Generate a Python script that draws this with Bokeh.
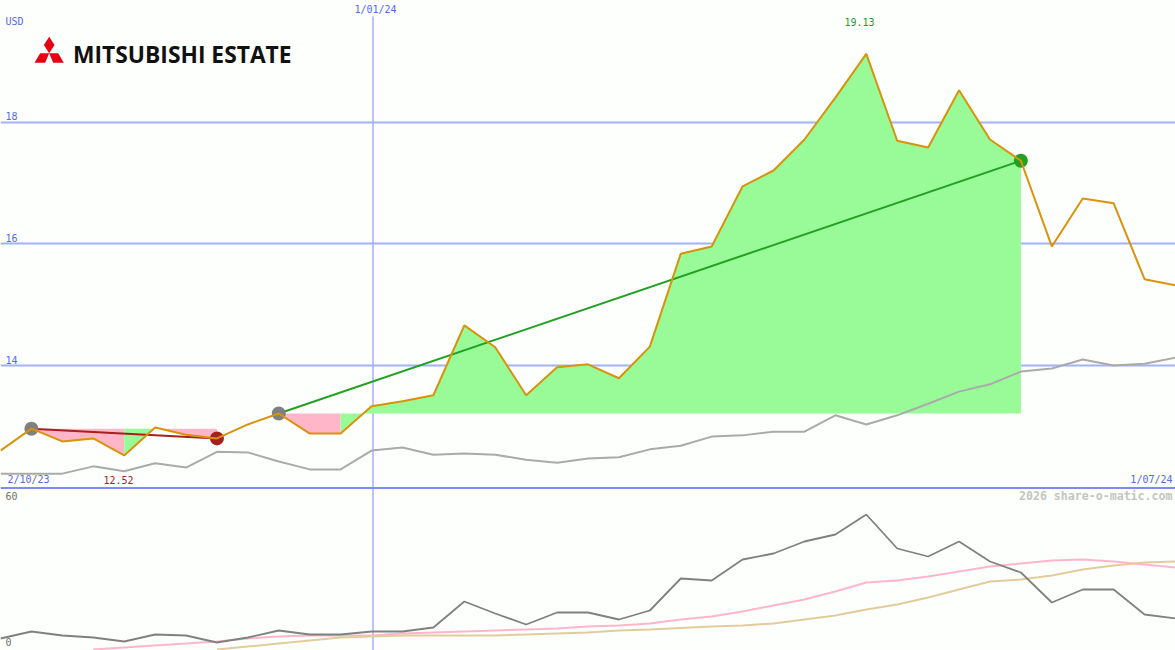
from bokeh.core.properties import value
from bokeh.embed import file_html
from bokeh.models import Range1d
from bokeh.plotting import figure
from bokeh.resources import INLINE

# monthly closes, left to right
price = [12.60, 12.96, 12.75, 12.80, 12.52, 12.98, 12.86, 12.80, 13.03, 13.21,
         12.88, 12.88, 13.33, 13.41, 13.51, 14.66, 14.30, 13.51, 13.97, 14.02,
         13.79, 14.31, 15.84, 15.96, 16.95, 17.21, 17.72, 18.41, 19.13, 17.70,
         17.59, 18.53, 17.72, 17.37, 15.96, 16.75, 16.67, 15.42, 15.32]
price_avg = [12.22, 12.22, 12.22, 12.34, 12.26, 12.39, 12.32, 12.58, 12.57, 12.42,
             12.29, 12.29, 12.60, 12.65, 12.53, 12.55, 12.53, 12.45, 12.40, 12.47,
             12.49, 12.62, 12.68, 12.83, 12.85, 12.91, 12.91, 13.18, 13.03, 13.18,
             13.37, 13.57, 13.69, 13.90, 13.95, 14.10, 14.00, 14.03, 14.13]
osc = [4.0, 6.8, 5.2, 4.4, 2.8, 5.6, 5.2, 2.4, 4.4, 7.2,
       5.6, 5.6, 6.8, 6.8, 8.4, 18.8, 14.0, 9.6, 14.4, 14.4,
       11.6, 15.2, 28.0, 27.2, 35.6, 38.0, 42.8, 45.6, 53.6, 40.0,
       36.8, 42.8, 34.8, 30.4, 18.4, 23.6, 23.6, 13.6, 12.0]
osc_fast = [-0.4, 0.4, 1.2, 2.0, 2.8, 4.0, 4.8, 5.2, 5.2, 5.2, 6.0, 6.4,
            6.8, 7.2, 7.6, 8.0, 8.8, 9.2, 10.0, 11.6, 12.8, 14.8, 17.2, 19.6,
            22.8, 26.4, 27.2, 28.8, 30.8, 32.8, 34.0, 35.2, 35.6, 34.8, 33.6, 32.4]
osc_slow = [-0.4, 0.8, 2.0, 3.2, 4.4, 4.8, 5.2, 5.2, 5.2, 5.2, 5.6, 6.0, 6.4, 7.2, 7.6, 8.2,
            8.8, 9.2, 10.0, 11.6, 13.2, 15.6, 17.6, 20.4, 23.6, 26.8, 27.6, 29.2, 31.6,
            33.2, 34.4, 34.8]
levels = [18, 16, 14]
# entry month, exit month, colour
trades = [(1, 7, "#a52020"), (9, 33, "#22a022")]
# runs of months for the fill between price and entry level: first, last, entry price month, colour
fill_runs = [(1, 4, 1, "#ffb6c8"), (4, 5, 1, "#98fb98"), (5, 7, 1, "#ffb6c8"),
             (9, 11, 9, "#ffb6c8"), (11, 33, 9, "#98fb98")]

BG = "#fdfffd"
GRID = "#a3b1f5"
BLUE = "#5468f0"

xs = list(range(len(price)))

p = figure(width=1175, height=650, toolbar_location=None, output_backend="svg",
           x_range=Range1d(0, 38), y_range=Range1d(9.309, 20.008),
           min_border=0, background_fill_color=BG,
           border_fill_color=BG, outline_line_color=None)
p.axis.visible = False
p.grid.visible = False
p.extra_x_ranges["px"] = Range1d(0, 1175)
p.extra_y_ranges["px"] = Range1d(650, 0)
p.extra_y_ranges["osc"] = Range1d(-0.8, 259.2)

p.hspan(y=levels, line_color=GRID, line_width=2)
p.segment(x0=[372.5], x1=[372.5], y0=[16], y1=[650], x_range_name="px", y_range_name="px",
          line_color=GRID, line_width=1.5)
p.segment(x0=[0], x1=[1175], y0=[487.5], y1=[487.5], x_range_name="px", y_range_name="px",
          line_color="#7c8cf0", line_width=2)

for first, last, entry, col in fill_runs:
    run_x = xs[first:last + 1]
    p.varea(x=run_x, y1=[price[entry]] * len(run_x), y2=price[first:last + 1], fill_color=col)

p.line(xs, price_avg, line_color="#aaaaaa", line_width=2)

for start, end, col in trades:
    p.line([start, end], [price[start], price[end]], line_color=col, line_width=2)
    p.scatter([start], [price[start]], size=14, fill_color="#808080", line_color=None)
    p.scatter([end], [price[end]], size=14, fill_color=col, line_color=None)

p.line(xs, price, line_color="#d9920a", line_width=2)

p.line(xs[3:], osc_fast, y_range_name="osc", line_color="#ffb6cc", line_width=2)
p.line(xs[7:], osc_slow, y_range_name="osc", line_color="#e2cc9c", line_width=2)
p.line(xs, osc, y_range_name="osc", line_color="#808080", line_width=1.8)

# logo
p.patches(xs=[[48.7, 54.0, 48.7, 43.4], [39.7, 48.7, 44.7, 34.0], [48.7, 57.7, 63.3, 52.7]],
          ys=[[36.2, 44.5, 52.8, 44.5], [52.8, 52.8, 62.2, 62.2], [52.8, 52.8, 62.2, 62.2]],
          x_range_name="px", y_range_name="px", fill_color="#e60012", line_color=None)
p.text(x=[72.5], y=[53.5], text=["MITSUBISHI ESTATE"], x_range_name="px", y_range_name="px",
       text_font=value("Open Sans"), text_font_style="bold", text_font_size="22.8px",
       text_color="#111111", text_baseline="middle")


def label(x, y, s, color=BLUE, align="left", size="10px", style="normal"):
    p.text(x=[x], y=[y], text=[s], x_range_name="px", y_range_name="px",
           text_font=value("DejaVu Sans Mono"), text_font_size=size, text_font_style=style,
           text_color=color, text_align=align, text_baseline="middle")


label(5, 21, "USD")
label(5, 115, "18")
label(5, 237, "16")
label(5, 359, "14")
label(354, 9, "1/01/24")
label(844, 21, "19.13", "#22a022")
label(7, 479, "2/10/23")
label(103, 479, "12.52", "#a52020")
label(1172, 479, "1/07/24", align="right")
label(5, 495, "60", "#707070")
label(5, 641, "0", "#707070")
label(1172, 495, "2026 share-o-matic.com", "#c4c4c4", "right", "11.6px", "bold")

open("out.html", "w").write(file_html(p, INLINE))
